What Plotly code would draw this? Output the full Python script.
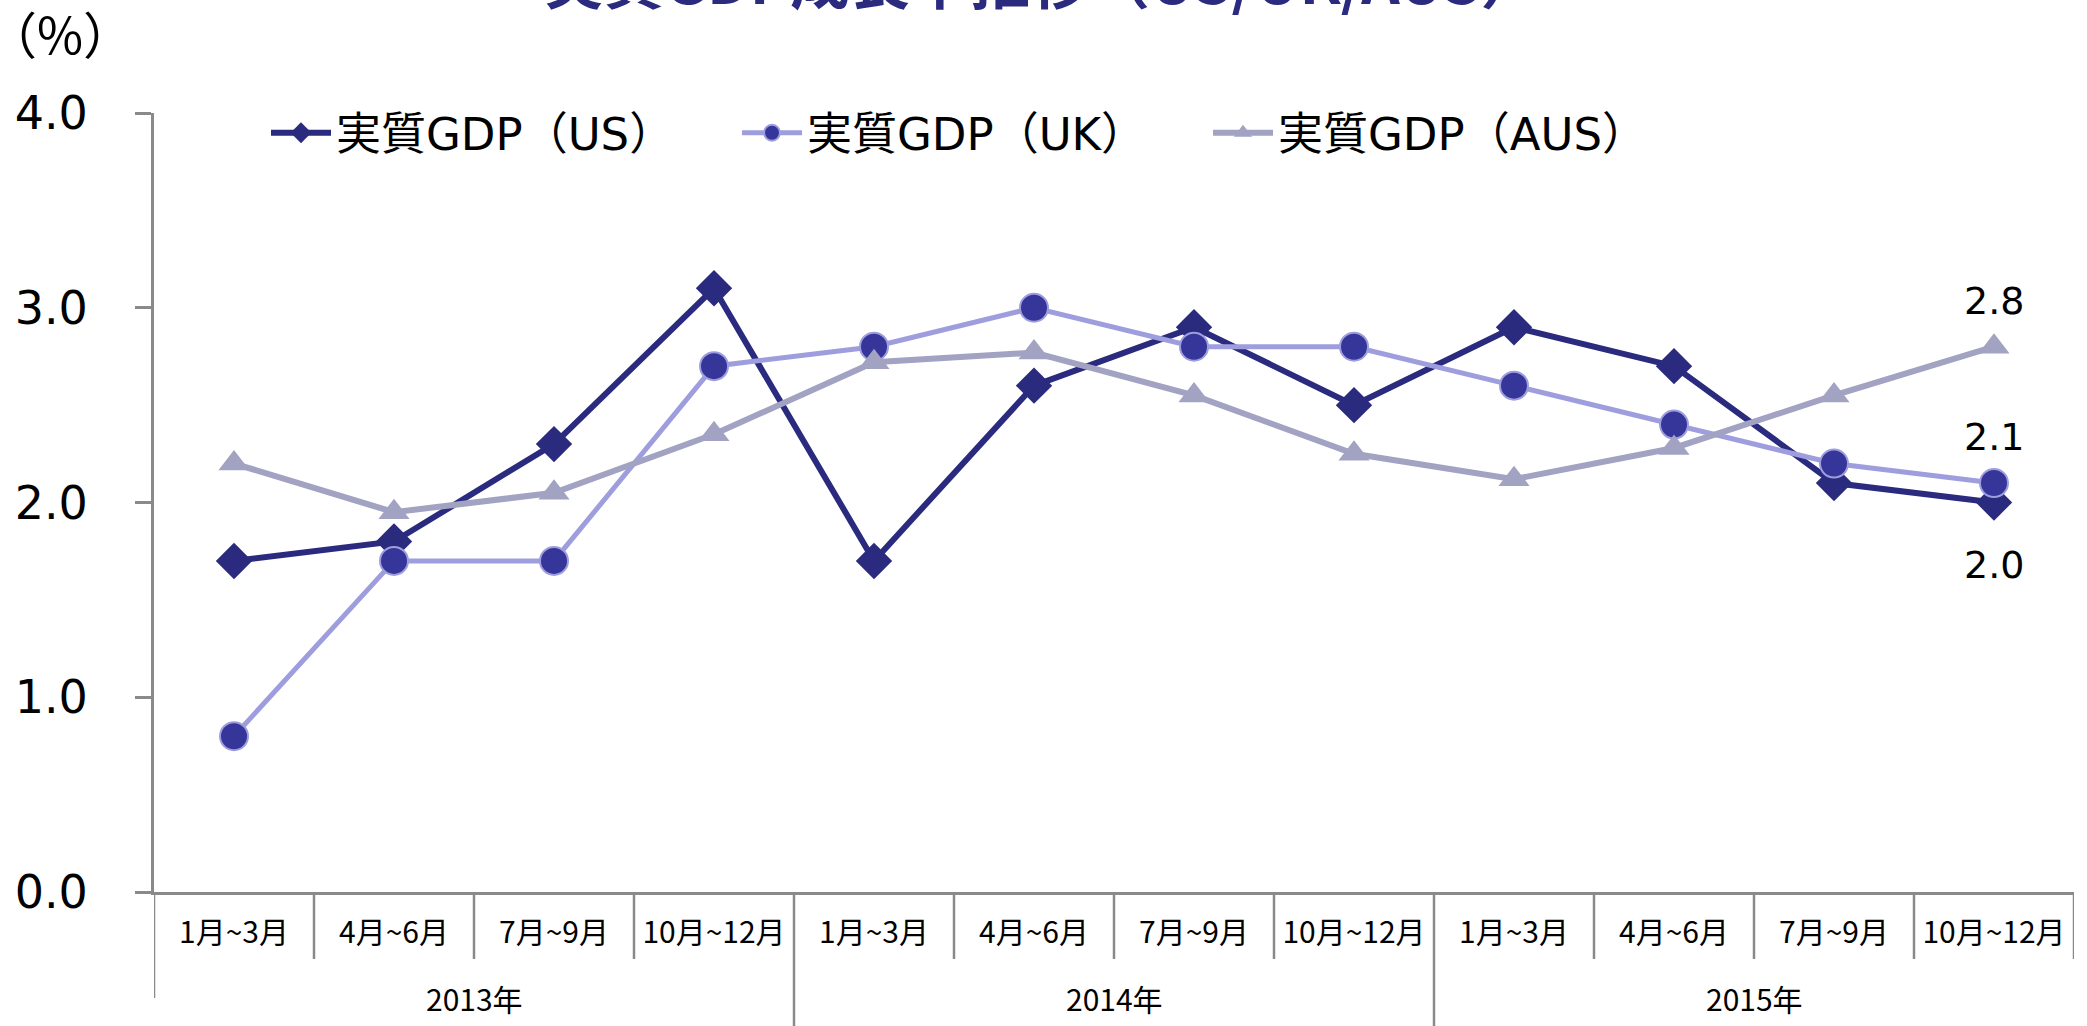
import plotly.graph_objects as go

# ---------------- data ----------------
years = ["2013年", "2014年", "2015年"]
quarters = ["1月~3月", "4月~6月", "7月~9月", "10月~12月"]
categories = [q for y in years for q in quarters]

us = [1.7, 1.8, 2.3, 3.1, 1.7, 2.6, 2.9, 2.5, 2.9, 2.7, 2.1, 2.0]
uk = [0.8, 1.7, 1.7, 2.7, 2.8, 3.0, 2.8, 2.8, 2.6, 2.4, 2.2, 2.1]
aus = [2.2, 1.95, 2.05, 2.35, 2.72, 2.77, 2.55, 2.25, 2.12, 2.28, 2.55, 2.8]

names = ["実質GDP（US）", "実質GDP（UK）", "実質GDP（AUS）"]
title_text = "実質GDP成長率推移（US/UK/AUS）"
y_ticks = [0, 1, 2, 3, 4]

# ---------------- style ----------------
W, H = 2087, 1026
ML, MR, MT, MB = 154, 13, 113, 134
PH = H - MT - MB
FONT = "DejaVu Sans, Noto Sans CJK JP, sans-serif"
CJK = "Noto Sans CJK JP, DejaVu Sans, sans-serif"
C_US = "#2A2A7E"
C_UK_LINE = "#9E9EDE"
C_UK_FILL = "#35359A"
C_AUS = "#A2A2C2"
AX = "#8A8A8A"

def py(p):
    """pixel row -> paper y"""
    return (H - MB - p) / PH

def px(p):
    return (p - ML) / (W - ML - MR)

xi = list(range(len(categories)))

fig = go.Figure()
fig.add_trace(go.Scatter(
    x=xi, y=us, name=names[0], mode="lines+markers",
    line=dict(color=C_US, width=6),
    marker=dict(symbol="diamond", size=28, color=C_US, line=dict(width=0)),
))
fig.add_trace(go.Scatter(
    x=xi, y=uk, name=names[1], mode="lines+markers",
    line=dict(color=C_UK_LINE, width=5),
    marker=dict(symbol="circle", size=28, color=C_UK_FILL, line=dict(color=C_UK_LINE, width=2)),
))
fig.add_trace(go.Scatter(
    x=xi, y=aus, name=names[2], mode="lines+markers",
    line=dict(color=C_AUS, width=6),
    marker=dict(symbol="triangle-up", size=27, color=C_AUS, line=dict(width=0)),
))

# data labels on last points
last = xi[-1]
for val, shift in ((aus[-1], 46), (uk[-1], 46), (us[-1], -62)):
    fig.add_annotation(x=last, y=val, text=f"{val:.1f}", showarrow=False,
                       yshift=shift, font=dict(size=38, color="#000", family=FONT))

# separators under x axis
n_q = len(quarters)
bounds = [i - 0.5 for i in range(len(categories) + 1)]
shapes = []
for k, b in enumerate(bounds):
    if k == 0:
        y1 = py(998)
    elif k % n_q == 0 and k != len(categories):
        y1 = py(1026)
    else:
        y1 = py(959)
    shapes.append(dict(type="line", xref="x", yref="paper", x0=b, x1=b, y0=0, y1=y1,
                       line=dict(color=AX, width=2.5)))
fig.update_layout(shapes=shapes)

# year labels
for gi, yr in enumerate(years):
    cx = gi * n_q + (n_q - 1) / 2
    fig.add_annotation(x=cx, xref="x", y=py(998), yref="paper", text=yr, showarrow=False,
                       font=dict(size=30, color="#000", family=CJK), yanchor="middle")

# title (cut off at top)
fig.add_annotation(x=px(1042), xref="paper", y=py(23), yref="paper",
                   text=title_text, showarrow=False, yanchor="bottom", xanchor="center",
                   font=dict(size=60, color=C_US, family=CJK, weight="bold"))
# unit label
fig.add_annotation(x=px(60), xref="paper", y=py(32), yref="paper",
                   text="（%）", showarrow=False, yanchor="middle", xanchor="center",
                   font=dict(size=50, color="#000", family=CJK))

fig.update_layout(
    width=W, height=H,
    margin=dict(l=ML, r=MR, t=MT, b=MB, autoexpand=False),
    paper_bgcolor="white", plot_bgcolor="white",
    showlegend=True,
    legend=dict(orientation="h", x=px(266), xanchor="left",
                y=py(133), yanchor="middle", entrywidth=396, entrywidthmode="pixels",
                font=dict(size=45, color="#000", family=FONT), bgcolor="rgba(0,0,0,0)",
                itemwidth=60, tracegroupgap=0),
    xaxis=dict(range=[-0.5, len(categories) - 0.5], tickvals=xi, ticktext=categories,
               showline=True, linecolor=AX, linewidth=3, showgrid=False, zeroline=False,
               ticks="", tickfont=dict(size=30, color="#000", family=CJK),
               ticklabelstandoff=12, fixedrange=True, automargin=False),
    yaxis=dict(range=[0, 4], tickvals=y_ticks, tickformat=".1f",
               showline=True, linecolor=AX, linewidth=3, showgrid=False, zeroline=False,
               ticks="outside", ticklen=16, tickwidth=3, tickcolor=AX,
               tickfont=dict(size=46, color="#000", family=FONT),
               ticklabelstandoff=38, fixedrange=True, automargin=False),
)

fig.write_html("out.html", config={"displayModeBar": False},
               post_script="document.body.style.margin='0px';document.body.style.overflow='hidden';")
